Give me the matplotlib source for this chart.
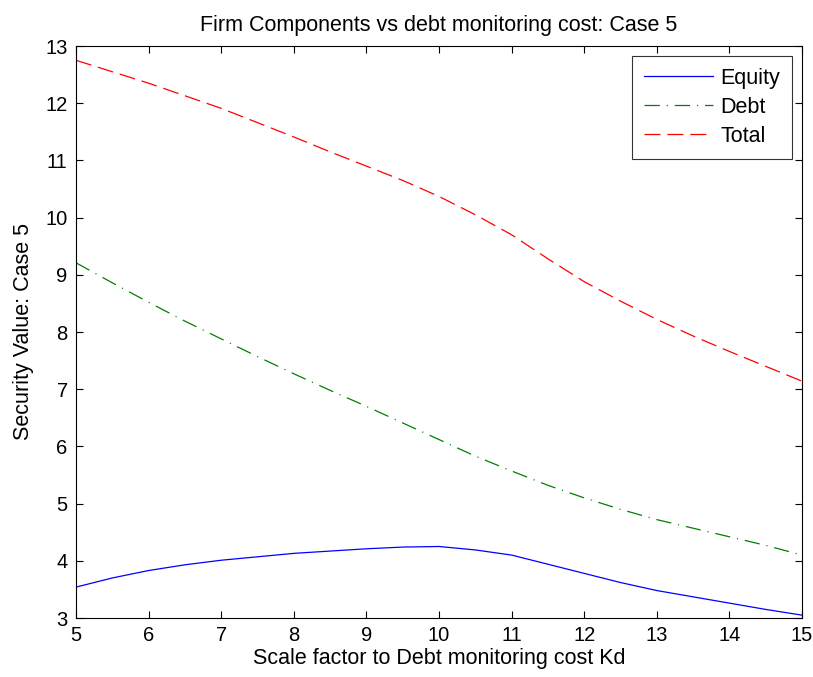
import matplotlib
matplotlib.use("Agg")
import matplotlib.pyplot as plt

plt.rcParams['font.family'] = ['Liberation Sans', 'DejaVu Sans']
plt.rcParams['lines.scale_dashes'] = False

x = [5, 5.5, 6, 6.5, 7, 7.5, 8, 8.5, 9, 9.5, 10, 10.5, 11, 11.5, 12, 12.5, 13, 13.5, 14, 14.5, 15]
equity = [3.54, 3.70, 3.83, 3.93, 4.01, 4.07, 4.13, 4.17, 4.21, 4.24, 4.25, 4.19, 4.10, 3.94,
          3.78, 3.62, 3.48, 3.37, 3.26, 3.15, 3.05]
debt = [9.21, 8.86, 8.52, 8.19, 7.88, 7.57, 7.27, 6.98, 6.70, 6.41, 6.12, 5.83, 5.57, 5.32,
        5.10, 4.90, 4.72, 4.57, 4.42, 4.27, 4.10]
total = [12.75, 12.55, 12.35, 12.13, 11.91, 11.66, 11.41, 11.15, 10.90, 10.65, 10.37, 10.05,
         9.70, 9.28, 8.88, 8.54, 8.22, 7.93, 7.66, 7.40, 7.14]

xticks = list(range(5, 16))
yticks = list(range(3, 14))

fig = plt.figure(figsize=(8.13, 6.77), dpi=100)
ax = fig.add_axes([76/813, 59/677, (802-76)/813, (618-46)/677])

ax.plot(x, equity, color=(0, 0, 1), lw=0.9, label='Equity')
ax.plot(x, debt, color=(0, 0.5, 0), lw=0.9, dashes=(11, 5, 0.8, 5), label='Debt')
ax.plot(x, total, color=(1, 0, 0), lw=0.9, dashes=(11.5, 5), label='Total')

ax.set_xlim(5, 15)
ax.set_ylim(3, 13)
ax.set_xticks(xticks)
ax.set_yticks(yticks)
ax.tick_params(direction='in', top=True, right=True, length=5, width=0.8, labelsize=14.5, pad=6)
for s in ax.spines.values():
    s.set_linewidth(0.8)

ax.set_title('Firm Components vs debt monitoring cost: Case 5', fontsize=15.5, pad=11)
ax.set_xlabel('Scale factor to Debt monitoring cost Kd', fontsize=15.5, labelpad=2)
ax.set_ylabel('Security Value: Case 5', fontsize=15.5, labelpad=8)

leg = ax.legend(loc='upper right', fontsize=15.5, frameon=True, fancybox=False,
                edgecolor='black', handlelength=3.2, borderaxespad=0.45, labelspacing=0.38,
                handletextpad=0.35, borderpad=0.55)
leg.get_frame().set_linewidth(0.8)

fig.savefig('out.png', dpi=100, facecolor='white')
